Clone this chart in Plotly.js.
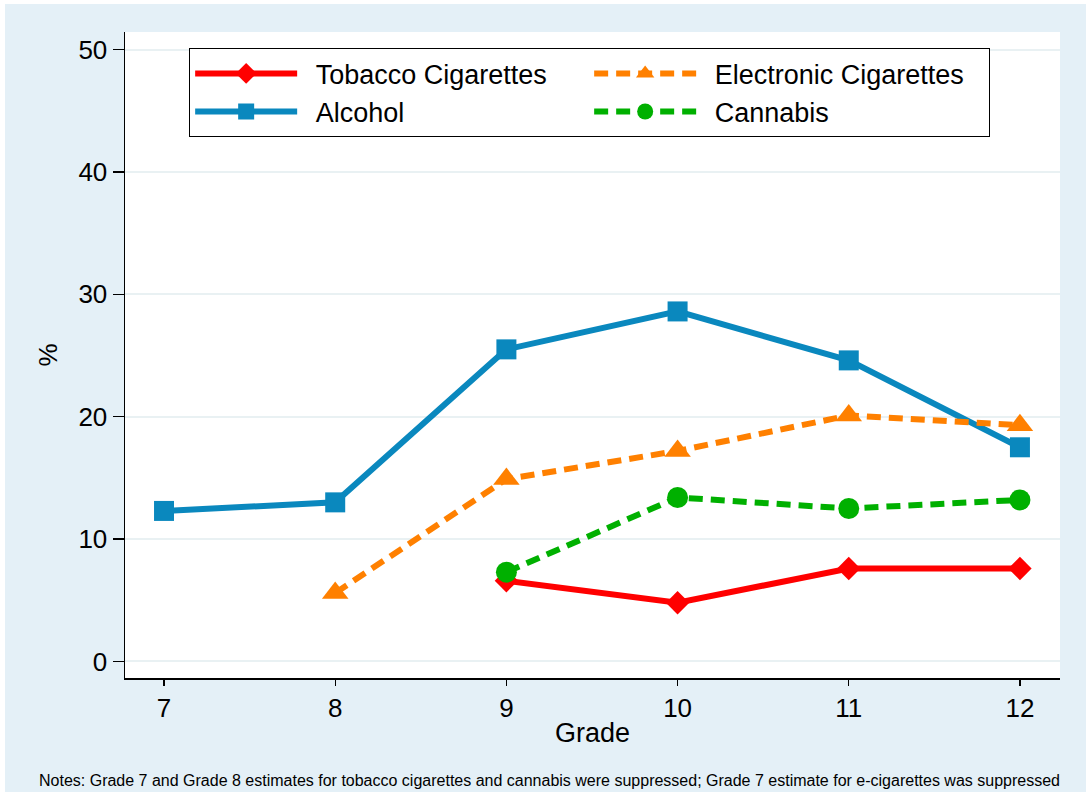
<!DOCTYPE html>
<html>
<head>
<meta charset="utf-8">
<script src="https://cdn.plot.ly/plotly-3.0.1.min.js"></script>
<style>
  html, body { margin: 0; padding: 0; background: #ffffff; }
  #chart { position: absolute; left: 5px; top: 4px; width: 1081px; height: 788px; }
</style>
</head>
<body>
<div id="chart"></div>
<script>
// ---- data ----
const grades = [7, 8, 9, 10, 11, 12];
const tobaccoGrades = [9, 10, 11, 12];
const tobacco = [6.6, 4.8, 7.6, 7.6];
const alcoholGrades = [7, 8, 9, 10, 11, 12];
const alcohol = [12.3, 13.0, 25.5, 28.6, 24.6, 17.5];
const ecigGrades = [8, 9, 10, 11, 12];
const ecig = [5.6, 14.9, 17.2, 20.1, 19.3];
const cannabisGrades = [9, 10, 11, 12];
const cannabis = [7.3, 13.4, 12.5, 13.2];
const yTicks = [0, 10, 20, 30, 40, 50];
const seriesNames = ["Tobacco Cigarettes", "Alcohol", "Electronic Cigarettes", "Cannabis"];
const noteText = "Notes: Grade 7 and Grade 8 estimates for tobacco cigarettes and cannabis were suppressed; Grade 7 estimate for e-cigarettes was suppressed";

const FONT = "Liberation Sans, Arial, Helvetica, sans-serif";
const GAP = "\u2002"; // small visual gap between legend key and label

const traces = [
  {
    x: tobaccoGrades, y: tobacco, name: GAP + seriesNames[0], legendrank: 1,
    mode: "lines+markers", type: "scatter",
    line: { color: "#ff0000", width: 6 },
    marker: { symbol: "diamond", size: 18, color: "#ff0000" }
  },
  {
    x: alcoholGrades, y: alcohol, name: GAP + seriesNames[1], legendrank: 3,
    mode: "lines+markers", type: "scatter",
    line: { color: "#0a88be", width: 6 },
    marker: { symbol: "square", size: 20, color: "#0a88be" }
  },
  {
    x: ecigGrades, y: ecig, name: GAP + seriesNames[2], legendrank: 2,
    mode: "lines+markers", type: "scatter",
    line: { color: "#ff8000", width: 6, dash: "14px,8px" },
    marker: { symbol: "triangle-up", size: 23, color: "#ff8000" }
  },
  {
    x: cannabisGrades, y: cannabis, name: GAP + seriesNames[3], legendrank: 4,
    mode: "lines+markers", type: "scatter",
    line: { color: "#00b000", width: 6, dash: "14px,8px" },
    marker: { symbol: "circle", size: 21, color: "#00b000" }
  }
];

const layout = {
  width: 1081, height: 788,
  margin: { l: 120, r: 26, t: 28, b: 114, pad: 0 },
  paper_bgcolor: "#e4f0f7",
  plot_bgcolor: "#ffffff",
  font: { family: FONT, size: 26, color: "#000000" },
  showlegend: true,
  legend: {
    orientation: "h",
    x: 0.0684, y: 0.975, xanchor: "left", yanchor: "top",
    bgcolor: "#ffffff", bordercolor: "#000000", borderwidth: 1.2,
    font: { family: FONT, size: 27, color: "#000000" },
    itemwidth: 102,
    entrywidth: 282, entrywidthmode: "pixels",
    traceorder: "normal"
  },
  xaxis: {
    range: [6.772, 12.234],
    tickmode: "array", tickvals: grades, ticktext: grades.map(String),
    showgrid: false, zeroline: false,
    showline: true, linecolor: "#000000", linewidth: 1.5,
    ticks: "outside", ticklen: 6, tickwidth: 1.3, tickcolor: "#000000",
    tickfont: { family: FONT, size: 26, color: "#000000" },
    title: { text: "Grade", font: { family: FONT, size: 27, color: "#000000" }, standoff: 1 }
  },
  yaxis: {
    range: [-1.35, 51.43],
    tickmode: "array", tickvals: yTicks, ticktext: yTicks.map(String),
    showgrid: true, gridcolor: "#e9f1f3", gridwidth: 2,
    zeroline: false,
    showline: true, linecolor: "#000000", linewidth: 1.5,
    ticks: "outside", ticklen: 11, tickwidth: 1.3, tickcolor: "#000000",
    tickfont: { family: FONT, size: 26, color: "#000000" },
    title: { text: "%", font: { family: FONT, size: 26, color: "#000000" }, standoff: 13 }
  },
  annotations: [
    {
      text: noteText, showarrow: false,
      xref: "paper", yref: "paper",
      x: -88 / 935, y: -102 / 646,
      xanchor: "left", yanchor: "middle",
      font: { family: FONT, size: 16, color: "#000000" }
    }
  ]
};

Plotly.newPlot("chart", traces, layout, { displayModeBar: false, staticPlot: true });
</script>
</body>
</html>
